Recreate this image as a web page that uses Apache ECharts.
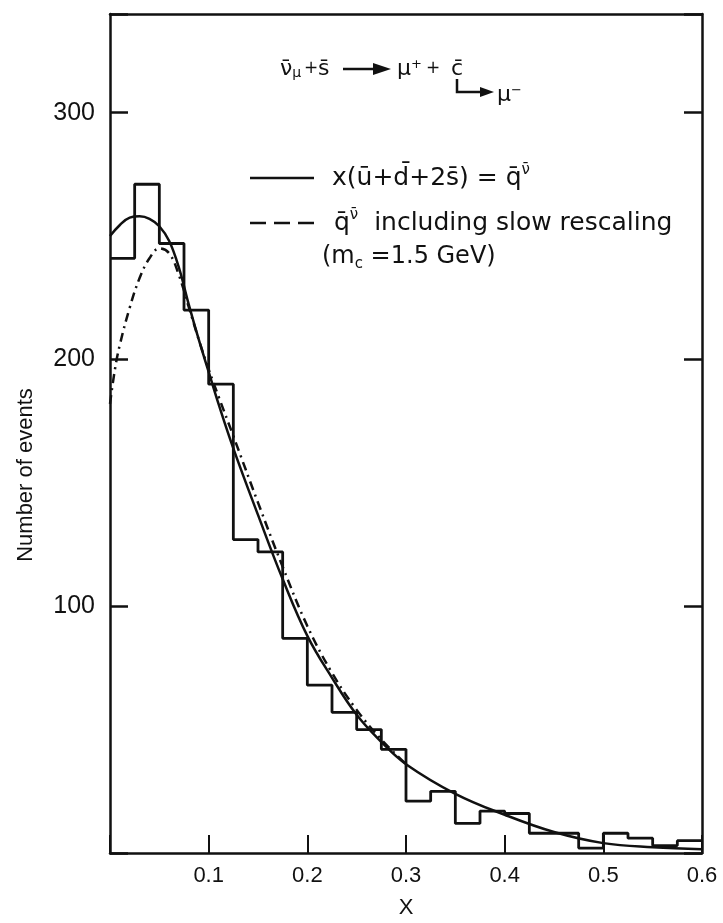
<!DOCTYPE html>
<html>
<head>
<meta charset="utf-8">
<script src="https://cdn.jsdelivr.net/npm/echarts@6/dist/echarts.min.js"></script>
<style>
  html, body { margin: 0; padding: 0; background: #fff; }
  #chart { width: 723px; height: 923px; }
</style>
</head>
<body>
<div id="chart"></div>
<script>
// histogram: left bin edges and counts (bin width 0.025)
const binEdges = [0, 0.025, 0.05, 0.075, 0.1, 0.125, 0.15, 0.175, 0.2, 0.225, 0.25, 0.275,
  0.3, 0.325, 0.35, 0.375, 0.4, 0.425, 0.45, 0.475, 0.5, 0.525, 0.55, 0.575]
const binEnd = 0.6
const counts = [241, 271, 247, 220, 190, 127, 122, 87, 68, 57, 50, 42,
  21, 25, 12, 17, 16, 8, 8, 2, 8, 6, 3, 5]

// solid curve  x(u+d+2s) = q
const solidX = [0, 0.01, 0.02, 0.03, 0.04, 0.05, 0.06, 0.07, 0.08, 0.09, 0.1, 0.11, 0.125,
  0.15, 0.175, 0.2, 0.225, 0.25, 0.275, 0.3, 0.35, 0.4, 0.45, 0.5, 0.55, 0.6]
const solidY = [250, 254.5, 257.5, 258, 257, 254, 248, 237, 222, 208, 195, 182, 164,
  137, 111, 88, 71, 56, 45, 36, 24, 15.5, 8.5, 4, 2.3, 1.5]

// dash-dot curve, slow rescaling
const rescX = [0, 0.005, 0.01, 0.02, 0.03, 0.04, 0.05, 0.06, 0.07, 0.08, 0.09, 0.1, 0.11,
  0.125, 0.15, 0.175, 0.2, 0.225, 0.25, 0.275, 0.3]
const rescY = [182, 196, 206, 221, 233, 241, 245, 243, 234, 221, 208, 196, 185,
  169, 142, 116, 92, 73, 58, 46, 36]

const xTicks = [0.1, 0.2, 0.3, 0.4, 0.5, 0.6]
const yTicks = [100, 200, 300]

const histData = binEdges.map((e, i) => [e, counts[i]])
histData.push([binEnd, counts[counts.length - 1]])

const pairs = (xs, ys) => xs.map((x, i) => [x, ys[i]])

const BLACK = '#111'
const FONT = 'DejaVu Sans'

const chart = echarts.init(document.getElementById('chart'), null, { renderer: 'canvas' })

const txt = (x, y, text, size, extra) => ({
  type: 'text', x: x, y: y,
  style: Object.assign({
    text: text, fill: BLACK, fontFamily: FONT, fontSize: size,
    verticalAlign: 'middle', align: 'left'
  }, extra || {})
})

const supRich = size => ({ fontSize: size, lineHeight: size, verticalAlign: 'top', fontFamily: FONT, fill: BLACK })
const subRich = size => ({ fontSize: size, lineHeight: size, verticalAlign: 'bottom', fontFamily: FONT, fill: BLACK })

const option = {
  backgroundColor: '#fff',
  animation: false,
  grid: { left: 110, right: 21, top: 14, bottom: 70, outerBoundsMode: 'none', containLabel: false },
  xAxis: [
    {
      type: 'value', min: 0, max: 0.6, interval: 0.1,
      axisLine: { onZero: false, lineStyle: { color: BLACK, width: 2.5 } },
      axisTick: { inside: true, length: 18, lineStyle: { color: BLACK, width: 2 } },
      axisLabel: {
        color: BLACK, fontSize: 22, fontFamily: 'Liberation Sans', margin: 12,
        formatter: v => xTicks.some(t => Math.abs(t - v) < 1e-6) ? v.toFixed(1) : ''
      },
      splitLine: { show: false }
    },
    {
      type: 'value', min: 0, max: 0.6, position: 'top',
      axisLine: { onZero: false, lineStyle: { color: BLACK, width: 2.5 } },
      axisTick: { show: false }, axisLabel: { show: false }, splitLine: { show: false }
    }
  ],
  yAxis: [
    {
      type: 'value', min: 0, max: 340, interval: 100,
      axisLine: { show: true, onZero: false, lineStyle: { color: BLACK, width: 2.5 } },
      axisTick: { inside: true, length: 18, lineStyle: { color: BLACK, width: 2.5 } },
      axisLabel: {
        color: BLACK, fontSize: 25, fontFamily: 'Liberation Sans', margin: 15,
        formatter: v => yTicks.includes(v) ? String(v) : ''
      },
      splitLine: { show: false }
    },
    {
      type: 'value', min: 0, max: 340, interval: 100, position: 'right',
      axisLine: { show: true, onZero: false, lineStyle: { color: BLACK, width: 2.5 } },
      axisTick: { inside: true, length: 18, lineStyle: { color: BLACK, width: 2.5 } },
      axisLabel: { show: false }, splitLine: { show: false }
    }
  ],
  series: [
    {
      name: 'data', type: 'line', step: 'end', data: histData,
      symbol: 'none', lineStyle: { color: BLACK, width: 2.8 }, z: 3
    },
    {
      name: 'q', type: 'line', smooth: 0.4, data: pairs(solidX, solidY),
      symbol: 'none', lineStyle: { color: BLACK, width: 2.5 }, z: 4
    },
    {
      name: 'q rescaling', type: 'line', smooth: 0.4, data: pairs(rescX, rescY),
      symbol: 'none', lineStyle: { color: BLACK, width: 2.5, type: [9, 5, 2, 5] }, z: 4
    }
  ],
  graphic: [
    // axis titles
    {
      type: 'text', x: 26, y: 475, rotation: Math.PI / 2,
      style: {
        text: 'Number of events', fill: BLACK, fontFamily: 'Liberation Sans', fontSize: 22,
        align: 'center', verticalAlign: 'middle'
      }
    },
    {
      type: 'text', x: 406, y: 908,
      style: {
        text: 'X', fill: BLACK, fontFamily: 'Liberation Sans', fontSize: 22,
        align: 'center', verticalAlign: 'middle'
      }
    },
    // reaction annotation
    txt(280, 69, 'ν̄{sub|μ}', 22, { rich: { sub: subRich(14) } }),
    txt(304, 69, '+', 17),
    txt(318, 69, 's̄', 22),
    {
      type: 'line', shape: { x1: 343, y1: 69, x2: 378, y2: 69 },
      style: { stroke: BLACK, lineWidth: 2.5 }
    },
    {
      type: 'polygon', shape: { points: [[373, 63], [391, 69], [373, 75]] },
      style: { fill: BLACK }
    },
    txt(397, 69, 'μ{sup|+}', 22, { rich: { sup: supRich(13) } }),
    txt(426, 69, '+', 17),
    txt(451, 69, 'c̄', 22),
    {
      type: 'polyline',
      shape: { points: [[457, 79], [457, 92], [483, 92]] },
      style: { stroke: BLACK, lineWidth: 2.5, fill: null }
    },
    {
      type: 'polygon', shape: { points: [[480, 87], [494, 92], [480, 97]] },
      style: { fill: BLACK }
    },
    txt(497, 95, 'μ{sup|−}', 22, { rich: { sup: supRich(13) } }),
    // legend
    {
      type: 'line', shape: { x1: 250, y1: 178, x2: 314, y2: 178 },
      style: { stroke: BLACK, lineWidth: 2.5 }
    },
    txt(332, 178, 'x(ū+d̄+2s̄) = q̄{sup|ν̄}', 25, { lineHeight: 30, rich: { sup: supRich(15) } }),
    {
      type: 'line', shape: { x1: 250, y1: 223, x2: 314, y2: 223 },
      style: { stroke: BLACK, lineWidth: 2.5, lineDash: [16, 8] }
    },
    txt(334, 223, 'q̄{sup|ν̄}  including slow rescaling', 25, { lineHeight: 30, rich: { sup: supRich(15) } }),
    txt(322, 257, '(m{sub|c} =1.5 GeV)', 24, { lineHeight: 30, rich: { sub: subRich(15) } })
  ]
}

chart.setOption(option)
</script>
</body>
</html>
